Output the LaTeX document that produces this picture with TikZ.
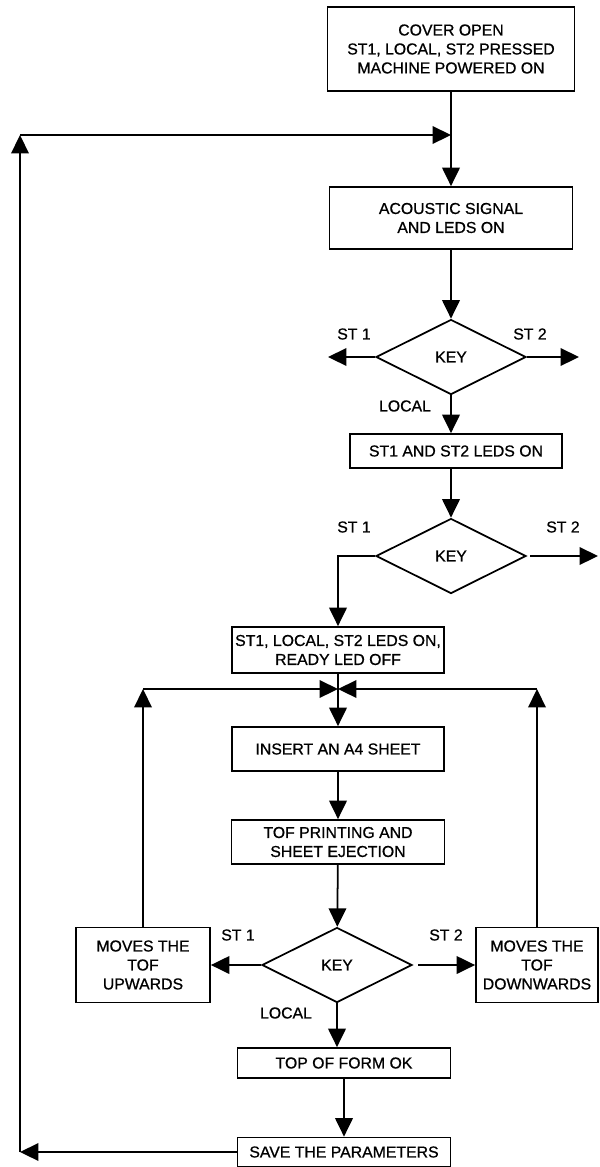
\documentclass[tikz,border=0pt]{standalone}
\usepackage{fontspec}
\setmainfont{Liberation Sans}[FakeBold=0.8]
\usetikzlibrary{arrows.meta,shapes.geometric}

\begin{document}
\begin{tikzpicture}[
  x=0.2mm, y=-0.2mm,
  >={Triangle[length=10.5pt,width=10pt]},
  every node/.style={font=\fontsize{9}{10.8}\selectfont},
  line/.style={line width=1pt},
  stepbox/.style={draw,line width=1pt,align=center,inner sep=1pt},
  keybox/.style={draw,diamond,line width=1pt,inner sep=0pt,
                 minimum width=30mm,minimum height=15mm},
  lbl/.style={inner sep=1pt}
]
\useasboundingbox (0,0) rectangle (599,1167);

%% Upper column
\node[stepbox,minimum width=49.4mm,minimum height=16.8mm] (cover) at (451,49)
  {COVER OPEN\\ST1, LOCAL, ST2 PRESSED\\MACHINE POWERED ON};
\node[stepbox,minimum width=48.6mm,minimum height=12.4mm] (acoustic) at (451,218)
  {ACOUSTIC SIGNAL\\AND LEDS ON};
\node[keybox] (key1) at (451,357) {KEY};
\node[stepbox,minimum width=42.4mm,minimum height=6.8mm] (stleds) at (456,451)
  {ST1 AND ST2 LEDS ON};
\node[keybox] (key2) at (451,556) {KEY};

%% Lower column
\node[stepbox,minimum width=42.4mm,minimum height=9.2mm] (ledsoff) at (338,650)
  {ST1, LOCAL, ST2 LEDS ON,\\READY LED OFF};
\node[stepbox,minimum width=42.4mm,minimum height=8.8mm] (insert) at (338,749)
  {INSERT AN A4 SHEET};
\node[stepbox,minimum width=42.6mm,minimum height=8.8mm] (tofprint) at (338,842)
  {TOF PRINTING AND\\SHEET EJECTION};
\node[keybox] (key3) at (337,965) {KEY};
\node[stepbox,minimum width=26.8mm,minimum height=15mm] (up) at (143,965)
  {MOVES THE\\TOF\\UPWARDS};
\node[stepbox,minimum width=24.4mm,minimum height=15mm] (down) at (537,965)
  {MOVES THE\\TOF\\DOWNWARDS};
\node[stepbox,minimum width=42.6mm,minimum height=6mm] (tofok) at (344,1063)
  {TOP OF FORM OK};
\node[stepbox,minimum width=42.6mm,minimum height=5.8mm] (save) at (344,1152)
  {SAVE THE PARAMETERS};

%% Key labels
\node[lbl] (k1a) at (354,334) {ST 1};
\node[lbl] (k1b) at (530,334) {ST 2};
\node[lbl] (k1c) at (405,406) {LOCAL};
\node[lbl] (k2a) at (354,527) {ST 1};
\node[lbl] (k2b) at (563,527) {ST 2};
\node[lbl] (k3a) at (238,935) {ST 1};
\node[lbl] (k3b) at (446,935) {ST 2};
\node[lbl] (k3c) at (286,1013) {LOCAL};

%% Free ends and joints
\coordinate (jtop) at (451,135);
\coordinate (ctop) at (20,135);
\coordinate (cbot) at (20,1152);
\coordinate (k1l) at (328,357);
\coordinate (k1r) at (579,357);
\coordinate (k2r) at (598,556);
\coordinate (jmid) at (338,689);

%% Arrows: main chain
\draw[line,->] (cover) -- (acoustic);
\draw[line,->] (acoustic) -- (key1);
\draw[line,->] (key1.west) -- (k1l);
\draw[line,->] (key1.east) -- (k1r);
\draw[line,->] (key1.south) -- (key1.south |- stleds.north);
\draw[line,->] (stleds.south -| key2) -- (key2.north);
\draw[line,->,shorten <=2pt] (key2.east) -- (k2r);
\draw[line,->] (key2.west) -| (ledsoff.north);
\draw[line,->] (ledsoff) -- (insert);
\draw[line,->] (insert) -- (tofprint);
\draw[line,->] (tofprint) -- (key3);
\draw[line,->] (key3.west) -- (up.east);
\draw[line,->,shorten <=3pt] (key3.east) -- (down.west);
\draw[line,->] (key3.south) -- (key3.south |- tofok.north);
\draw[line,->] (tofok.south -| save) -- (save.north);

%% Arrows: loops back
\draw[line,->] (up.north) -- (up.north |- jmid);
\draw[line,->] (up.north |- jmid) -- (jmid);
\draw[line,->] (down.north) -- (down.north |- jmid);
\draw[line,->] (down.north |- jmid) -- (jmid);
\draw[line,->] (save.west) -- (cbot);
\draw[line,->] (cbot) -- (ctop);
\draw[line,->] (ctop) -- (jtop);

\end{tikzpicture}
\end{document}
